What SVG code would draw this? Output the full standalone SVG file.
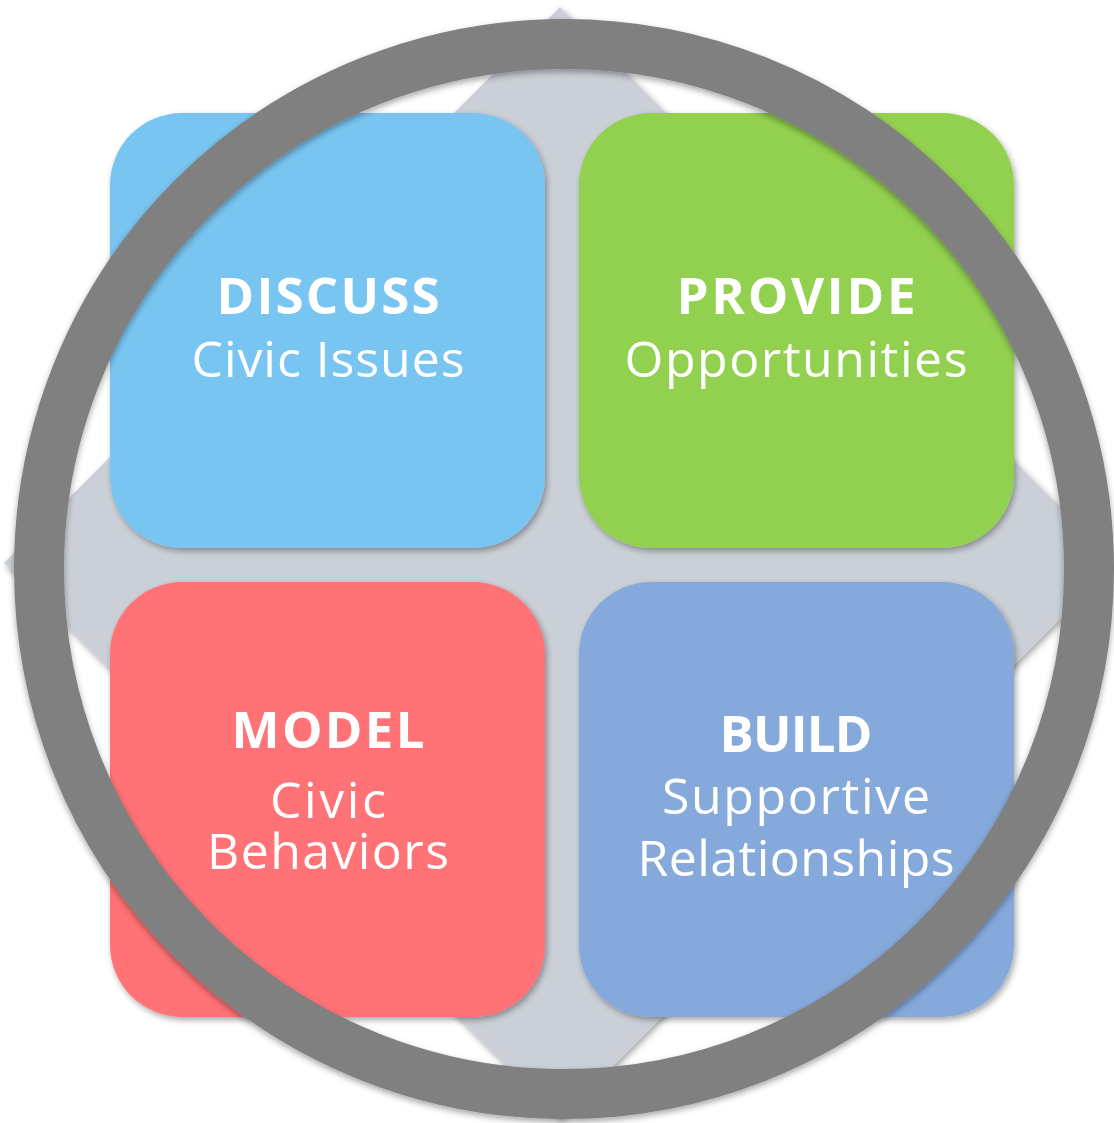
<svg xmlns="http://www.w3.org/2000/svg" width="1114" height="1123" viewBox="0 0 1114 1123">
<defs>
<filter id="sh" x="-10%" y="-10%" width="120%" height="120%">
<feDropShadow dx="2" dy="3" stdDeviation="3" flood-color="#000" flood-opacity="0.35"/>
</filter>
<filter id="shr" x="-10%" y="-10%" width="120%" height="120%">
<feDropShadow dx="0" dy="3" stdDeviation="3" flood-color="#000" flood-opacity="0.35"/>
</filter>
</defs>
<style>
.box{filter:url(#sh)}
.t1{font-family:"Open Sans","Noto Sans",sans-serif;font-weight:700;font-size:51px;fill:#fff;text-anchor:middle}
.t2{font-family:"Open Sans","Noto Sans",sans-serif;font-weight:400;font-size:50px;fill:#fff;text-anchor:middle}
</style>
<rect width="1114" height="1123" fill="#fff"/>
<g id="diamond">
<polygon points="560,7 1116,563 560,1119 4,563" fill="#CBD0D8" filter="url(#sh)"/>
</g>
<g id="discuss">
<rect class="box" x="110" y="113" width="435" height="435" rx="72" fill="#79C5F1"/>
<text class="t1" x="328" y="314" textLength="223" lengthAdjust="spacing">DISCUSS</text>
<text class="t2" x="328" y="377" textLength="273" lengthAdjust="spacing">Civic Issues</text>
</g>
<g id="provide">
<rect class="box" x="579" y="113" width="435" height="435" rx="72" fill="#92D050"/>
<text class="t1" x="796" y="314" textLength="239" lengthAdjust="spacing">PROVIDE</text>
<text class="t2" x="796" y="377" textLength="343" lengthAdjust="spacing">Opportunities</text>
</g>
<g id="model">
<rect class="box" x="110" y="582" width="435" height="435" rx="72" fill="#FF7276"/>
<text class="t1" x="328" y="748" textLength="193" lengthAdjust="spacing">MODEL</text>
<text class="t2" x="328" y="818" textLength="116" lengthAdjust="spacing">Civic</text>
<text class="t2" x="328" y="869" textLength="242" lengthAdjust="spacing">Behaviors</text>
</g>
<g id="build">
<rect class="box" x="579" y="582" width="435" height="435" rx="72" fill="#86A9DC"/>
<text class="t1" x="796" y="752" textLength="153" lengthAdjust="spacing">BUILD</text>
<text class="t2" x="796" y="814" textLength="268" lengthAdjust="spacing">Supportive</text>
<text class="t2" x="796" y="876" textLength="317" lengthAdjust="spacing">Relationships</text>
</g>
<g id="ring">
<circle cx="564" cy="569" r="525" fill="none" stroke="#808080" stroke-width="50" filter="url(#shr)"/>
</g>
<g id="connectors"/>
</svg>
